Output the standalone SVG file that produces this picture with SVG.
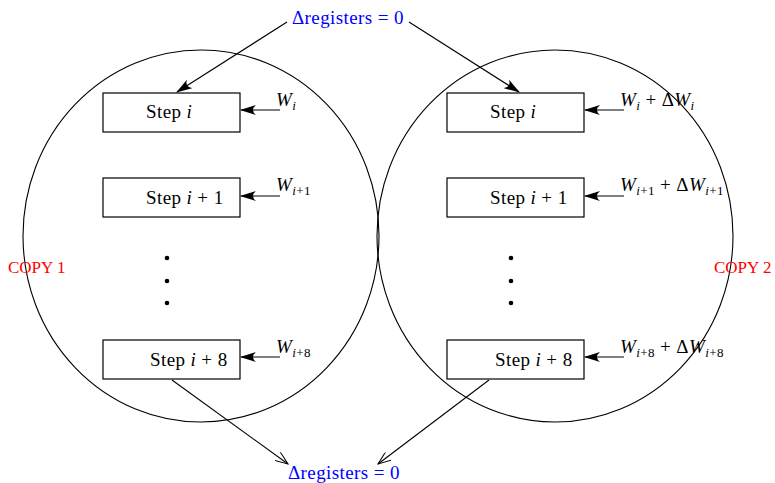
<svg xmlns="http://www.w3.org/2000/svg" width="775" height="483" viewBox="0 0 775 483">
<style>
text{font-family:"Liberation Serif","DejaVu Serif",serif;font-size:19px;letter-spacing:0.4px;fill:#000}
.box{fill:#fff;stroke:#000;stroke-width:1.2}
.circ{fill:none;stroke:#000;stroke-width:1.1}
.ln{fill:none;stroke:#000;stroke-width:1.1}
.blue{fill:#0000ff}
.red{fill:#ff0000;font-size:17px;letter-spacing:0}
.it{font-style:italic}
.sub{font-size:13px;font-style:italic}
.subn{font-size:13px}
</style>
<defs>
<marker id="fa" viewBox="0 0 16 10" refX="15" refY="5" markerWidth="16" markerHeight="10" markerUnits="userSpaceOnUse" orient="auto">
<path d="M0,0 Q6,5 0,10 L16,5 Z" fill="#000"/>
</marker>
<marker id="oa" viewBox="0 0 14 10" refX="13" refY="5" markerWidth="14" markerHeight="10" markerUnits="userSpaceOnUse" orient="auto">
<path d="M0,0 L13,5 L0,10" fill="none" stroke="#000" stroke-width="1"/>
</marker>
</defs>
<g id="copy1">
<ellipse class="circ" cx="201" cy="236" rx="178" ry="186"/>
<text class="red" x="8" y="273">COPY 1</text>
</g>
<g id="copy2">
<ellipse class="circ" cx="555" cy="236" rx="178" ry="186"/>
<text class="red" x="714" y="273">COPY 2</text>
</g>
<g id="top-label"><text class="blue" x="292" y="24">Δregisters = 0</text></g>
<g id="bottom-label"><text class="blue" x="288" y="479">Δregisters = 0</text></g>
<g id="l-step-i"><rect class="box" x="103" y="93" width="137" height="39"/><text x="146" y="118">Step <tspan class="it">i</tspan></text></g>
<g id="l-step-i1"><rect class="box" x="103" y="178" width="137" height="39"/><text x="146" y="204">Step <tspan class="it">i</tspan> + 1</text></g>
<g id="l-step-i8"><rect class="box" x="103" y="340" width="137" height="39"/><text x="150" y="366">Step <tspan class="it">i</tspan> + 8</text></g>
<g id="r-step-i"><rect class="box" x="447" y="93" width="137" height="39"/><text x="490" y="118">Step <tspan class="it">i</tspan></text></g>
<g id="r-step-i1"><rect class="box" x="447" y="178" width="137" height="39"/><text x="490" y="204">Step <tspan class="it">i</tspan> + 1</text></g>
<g id="r-step-i8"><rect class="box" x="447" y="340" width="137" height="39"/><text x="495" y="366">Step <tspan class="it">i</tspan> + 8</text></g>
<g id="l-dots" fill="#000"><circle cx="167" cy="258" r="2.3"/><circle cx="167" cy="281" r="2.3"/><circle cx="167" cy="303" r="2.3"/></g>
<g id="r-dots" fill="#000"><circle cx="511" cy="258" r="2.3"/><circle cx="511" cy="281" r="2.3"/><circle cx="511" cy="303" r="2.3"/></g>
<g id="w-labels">
<text x="276" y="106"><tspan class="it">W</tspan><tspan class="sub" dy="4">i</tspan></text>
<text x="276" y="191"><tspan class="it">W</tspan><tspan class="sub" dy="4">i</tspan><tspan class="subn">+1</tspan></text>
<text x="276" y="353"><tspan class="it">W</tspan><tspan class="sub" dy="4">i</tspan><tspan class="subn">+8</tspan></text>
<text x="620" y="106"><tspan class="it">W</tspan><tspan class="sub" dy="4">i</tspan><tspan dy="-4"> + Δ</tspan><tspan class="it">W</tspan><tspan class="sub" dy="4">i</tspan></text>
<text x="620" y="191"><tspan class="it">W</tspan><tspan class="sub" dy="4">i</tspan><tspan class="subn">+1</tspan><tspan dy="-4"> + Δ</tspan><tspan class="it">W</tspan><tspan class="sub" dy="4">i</tspan><tspan class="subn">+1</tspan></text>
<text x="620" y="353"><tspan class="it">W</tspan><tspan class="sub" dy="4">i</tspan><tspan class="subn">+8</tspan><tspan dy="-4"> + Δ</tspan><tspan class="it">W</tspan><tspan class="sub" dy="4">i</tspan><tspan class="subn">+8</tspan></text>
</g>
<g id="connectors">
<line class="ln" x1="287" y1="22" x2="177" y2="92" marker-end="url(#fa)"/>
<line class="ln" x1="409" y1="22" x2="519" y2="92" marker-end="url(#fa)"/>
<line class="ln" x1="280" y1="110" x2="241" y2="110" marker-end="url(#fa)"/>
<line class="ln" x1="280" y1="196" x2="241" y2="196" marker-end="url(#fa)"/>
<line class="ln" x1="280" y1="357" x2="241" y2="357" marker-end="url(#fa)"/>
<line class="ln" x1="624" y1="110" x2="585" y2="110" marker-end="url(#fa)"/>
<line class="ln" x1="624" y1="196" x2="585" y2="196" marker-end="url(#fa)"/>
<line class="ln" x1="624" y1="357" x2="585" y2="357" marker-end="url(#fa)"/>
<line class="ln" x1="172" y1="380" x2="288" y2="464" marker-end="url(#oa)"/>
<line class="ln" x1="489" y1="380" x2="378" y2="464" marker-end="url(#oa)"/>
</g>
</svg>
